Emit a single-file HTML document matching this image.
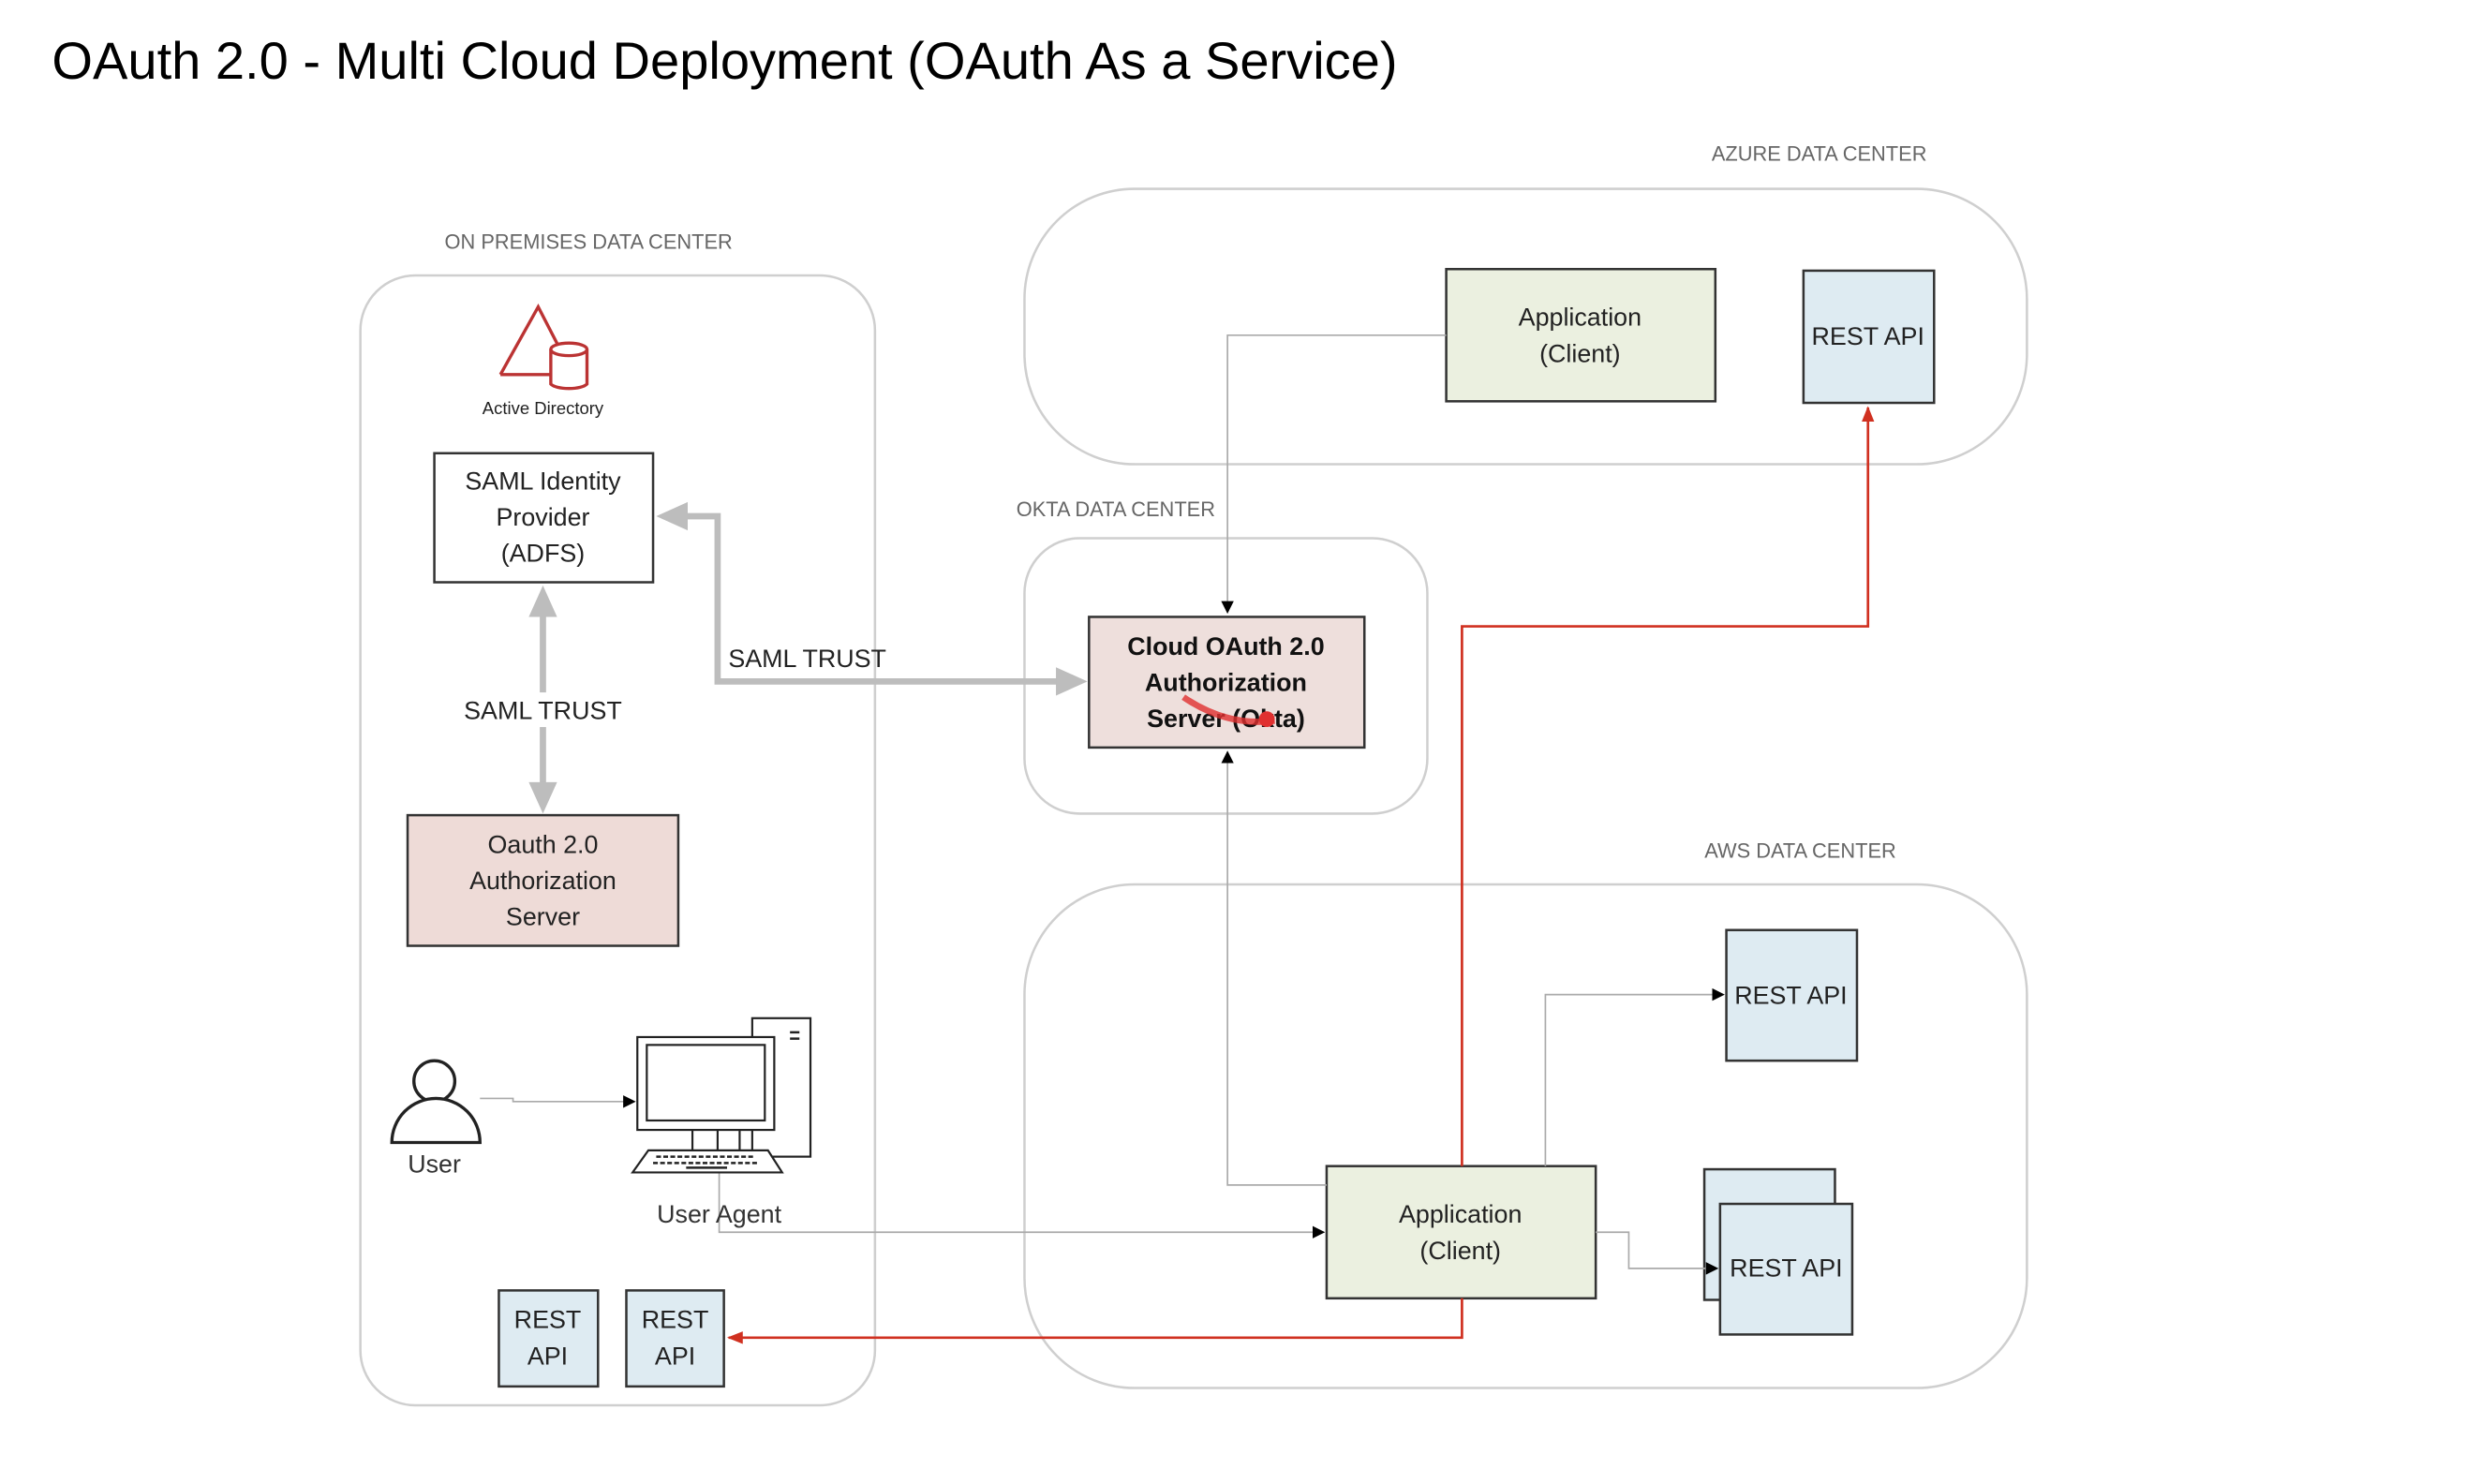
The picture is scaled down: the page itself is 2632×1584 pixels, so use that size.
<!DOCTYPE html>
<html><head><meta charset="utf-8"><style>
html,body{margin:0;padding:0;background:#fff;width:2632px;height:1584px;overflow:hidden}
svg{display:block}
text{font-family:"Liberation Sans",sans-serif}
</style></head><body>
<svg width="2632" height="1584" viewBox="0 0 1567 943" preserveAspectRatio="none" xmlns="http://www.w3.org/2000/svg">
<defs>
<marker id="ab" markerWidth="8" markerHeight="8" refX="7" refY="4" orient="auto" markerUnits="userSpaceOnUse"><path d="M0,0 L8,4 L0,8 z" fill="#000"/></marker>
<marker id="ar" markerWidth="10" markerHeight="10" refX="9" refY="5" orient="auto" markerUnits="userSpaceOnUse"><path d="M0,1 L10,5 L0,9 z" fill="#d03020"/></marker>
</defs>
<text x="33" y="50" font-size="33" textLength="855" lengthAdjust="spacingAndGlyphs" fill="#000">OAuth 2.0 - Multi Cloud Deployment (OAuth As a Service)</text>

<g fill="none" stroke="#cfcfcf" stroke-width="1.5">
<rect x="229" y="175" width="327" height="718" rx="35"/>
<rect x="651" y="120" width="637" height="175" rx="70"/>
<rect x="651" y="342" width="256" height="175" rx="35"/>
<rect x="651" y="562" width="637" height="320" rx="70"/>
</g>
<g font-size="13" fill="#666" text-anchor="middle">
<text x="374" y="158">ON PREMISES DATA CENTER</text>
<text x="1156" y="102">AZURE DATA CENTER</text>
<text x="709" y="328">OKTA DATA CENTER</text>
<text x="1144" y="545">AWS DATA CENTER</text>
</g>

<path d="M318,238 L342,195 L358,226" fill="none" stroke="#b33" stroke-width="2"/>
<path d="M318,238 L350,238" fill="none" stroke="#b33" stroke-width="2"/>
<path d="M350,222 L350,244 A12,4 0 0 0 373,244 L373,222" fill="#fff" stroke="#b33" stroke-width="2"/>
<ellipse cx="361.5" cy="222" rx="11.5" ry="4" fill="#fff" stroke="#b33" stroke-width="2"/>
<text x="345" y="263" font-size="11" text-anchor="middle" fill="#222">Active Directory</text>

<g stroke="#bdbdbd" stroke-width="4" fill="none">
<line x1="345" y1="392" x2="345" y2="500"/>
<polyline points="434,328 456,328 456,433 672,433"/>
</g>
<path d="M345,372 L336,392 L354,392 z M345,517 L336,497 L354,497 z M417,328 L437,319 L437,337 z M691,433 L671,424 L671,442 z" fill="#bdbdbd"/>
<rect x="293" y="440" width="104" height="22" fill="#fff"/>
<text x="345" y="457" font-size="16" text-anchor="middle" fill="#222">SAML TRUST</text>
<text x="513" y="424" font-size="16" text-anchor="middle" fill="#222">SAML TRUST</text>

<g stroke="#333" stroke-width="1.5">
<rect x="276" y="288" width="139" height="82" fill="#fff"/>
<rect x="259" y="518" width="172" height="83" fill="#eedbd7"/>
<rect x="692" y="392" width="175" height="83" fill="#eedfdc"/>
<rect x="919" y="171" width="171" height="84" fill="#ebf0e0"/>
<rect x="1146" y="172" width="83" height="84" fill="#deebf2"/>
<rect x="843" y="741" width="171" height="84" fill="#ebf0e0"/>
<rect x="1097" y="591" width="83" height="83" fill="#deebf2"/>
<rect x="1083" y="743" width="83" height="83" fill="#deebf2"/>
<rect x="1093" y="765" width="84" height="83" fill="#deebf2"/>
<rect x="317" y="820" width="63" height="61" fill="#deebf2"/>
<rect x="398" y="820" width="62" height="61" fill="#deebf2"/>
</g>
<g font-size="16" text-anchor="middle" fill="#222">
<text x="345" y="311">SAML Identity</text><text x="345" y="334">Provider</text><text x="345" y="357">(ADFS)</text>
<text x="345" y="542">Oauth 2.0</text><text x="345" y="565">Authorization</text><text x="345" y="588">Server</text>
<text x="1004" y="207">Application</text><text x="1004" y="230">(Client)</text>
<text x="1187" y="219">REST API</text>
<text x="928" y="777">Application</text><text x="928" y="800">(Client)</text>
<text x="1138" y="638">REST API</text>
<text x="1135" y="811">REST API</text>
<text x="348" y="844">REST</text><text x="348" y="867">API</text>
<text x="429" y="844">REST</text><text x="429" y="867">API</text>
</g>
<g font-size="16" text-anchor="middle" fill="#111" font-weight="bold">
<text x="779" y="416">Cloud OAuth 2.0</text><text x="779" y="439">Authorization</text><text x="779" y="462">Server (Okta)</text>
</g>
<path d="M752,443 Q780,462 810,458" stroke="#e03030" stroke-width="4" fill="none" opacity="0.8"/>
<circle cx="805" cy="457" r="5" fill="#e03030"/>

<g stroke="#aaa" stroke-width="1" fill="none">
<polyline points="919,213 780,213 780,389" marker-end="url(#ab)"/>
<polyline points="843,753 780,753 780,478" marker-end="url(#ab)"/>
<polyline points="982,741 982,632 1095,632" marker-end="url(#ab)"/>
<polyline points="1014,783 1035,783 1035,806 1091,806" marker-end="url(#ab)"/>
<polyline points="457,745 457,783 841,783" marker-end="url(#ab)"/>
<polyline points="305,698 326,698 326,700 403,700" marker-end="url(#ab)"/>
</g>
<g stroke="#d03020" stroke-width="1.6" fill="none">
<polyline points="929,741 929,398 1187,398 1187,259" marker-end="url(#ar)"/>
<polyline points="929,825 929,850 463,850" marker-end="url(#ar)"/>
</g>

<g stroke="#222" stroke-width="2" fill="#fff">
<circle cx="276" cy="687" r="13"/>
<path d="M249,726 A28,28 0 0 1 305,726 Z"/>
</g>
<text x="276" y="745" font-size="16" text-anchor="middle" fill="#333">User</text>
<g stroke="#222" stroke-width="1.3" fill="#fff">
<rect x="478" y="647" width="37" height="88"/>
<rect x="405" y="659" width="87" height="59"/>
<rect x="411" y="664" width="75" height="48"/>
<path d="M402,745 L412,731 L488,731 L497,745 Z"/>
<line x1="440" y1="718" x2="440" y2="731"/><line x1="456" y1="718" x2="456" y2="731"/><line x1="470" y1="718" x2="470" y2="731"/>
</g>
<path d="M502,656 h6 M502,660 h6" stroke="#222" stroke-width="1.5"/>
<path d="M417,735 h62 M415,739 h66" stroke="#222" stroke-width="1.5" stroke-dasharray="3,1.5"/>
<path d="M436,742 h26" stroke="#222" stroke-width="1.5"/>
<text x="457" y="777" font-size="16" text-anchor="middle" fill="#333">User Agent</text>
</svg>
</body></html>
